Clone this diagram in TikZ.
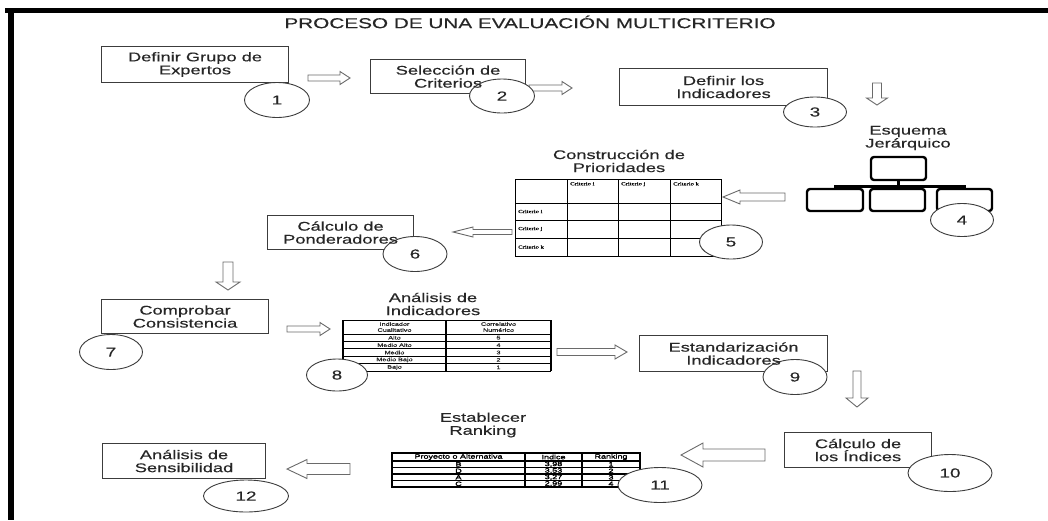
\documentclass[tikz,border=0pt]{standalone}
\usepackage{fontspec}
\setmainfont[FakeStretch=1.45,FakeBold=0.35]{Liberation Sans}
\newfontfamily\cellserif[FakeStretch=1.45,FakeBold=1.2]{Liberation Serif}
\newfontfamily\cellsans[FakeStretch=1.45,FakeBold=0.8]{Liberation Sans}
\newfontfamily\heavysans[FakeStretch=1.45,FakeBold=2.6]{Liberation Sans}
\usetikzlibrary{shapes.geometric}

\definecolor{ink}{HTML}{262626}
\definecolor{edge}{HTML}{3C3C3C}
\definecolor{arrowgray}{HTML}{6A6A6A}

% hollow block arrow: start coordinate, angle, length, shaft half width, head half width, head length
\newcommand\blockarrow[6]{%
  \draw[hollow,shift={(#1)},rotate=#2]
    (0,-#4) -- ({#3-#6},-#4) -- ({#3-#6},-#5) -- (#3,0) -- ({#3-#6},#5) -- ({#3-#6},#4) -- (0,#4) -- cycle;}

\begin{document}
\begin{tikzpicture}[x=1pt,y=-1pt,
  body/.style={font=\fontsize{12.6}{13}\selectfont, text=ink, align=center, inner sep=0pt},
  stepbox/.style={draw=edge, line width=1.1pt, fill=white, inner sep=0pt},
  badge/.style={ellipse, draw=edge, line width=0.9pt, fill=white, text=ink,
    font=\fontsize{13}{13}\selectfont, inner sep=0pt},
  hollow/.style={draw=arrowgray, line width=0.9pt, fill=white, line join=miter},
  orgbox/.style={draw=black, line width=2.4pt, rounded corners=3pt, inner sep=0pt},
  orgline/.style={draw=black, line width=3pt},
  tabline/.style={draw=black, line width=0.9pt},
  thickline/.style={draw=black, line width=2.4pt},
  mcell/.style={font=\cellserif\fontsize{4.6}{5}\selectfont, inner sep=0pt},
  icell/.style={font=\cellsans\fontsize{5}{6}\selectfont, text=ink, inner sep=0pt, align=center},
  rcell/.style={font=\heavysans\fontsize{6.2}{6.5}\selectfont, inner sep=0pt},
]
\useasboundingbox (0,0) rectangle (1048,520);
\fill[white] (0,0) rectangle (1048,520);

% frame bars
\fill[black] (5,8) rectangle (1048,13);
\fill[black] (8,8) rectangle (14,520);

% title
\node[font=\fontsize{14.3}{15}\selectfont, text=ink, inner sep=0pt] (title) at (530,22)
  {PROCESO DE UNA EVALUACIÓN MULTICRITERIO};

% step box frames
\node[stepbox, anchor=north west, minimum width=187, minimum height=36] (b1) at (101,46) {};
\node[stepbox, anchor=north west, minimum width=155, minimum height=34] (b2) at (370,59) {};
\node[stepbox, anchor=north west, minimum width=208, minimum height=37] (b3) at (619,68) {};
\node[stepbox, anchor=north west, minimum width=146, minimum height=34] (b6) at (267,215) {};
\node[stepbox, anchor=north west, minimum width=167, minimum height=34] (b7) at (101,299) {};
\node[stepbox, anchor=north west, minimum width=188, minimum height=36] (b9) at (639,335) {};
\node[stepbox, anchor=north west, minimum width=147, minimum height=35] (b10) at (784,432) {};
\node[stepbox, anchor=north west, minimum width=163, minimum height=35] (b12) at (102,443) {};

% captions
\node[body] (capH) at (908,138) {Esquema\\Jerárquico};
\node[body] (capP) at (619,161) {Construcción de\\Prioridades};
\node[body] (capI) at (433,304) {Análisis de\\Indicadores};
\node[body] (capR) at (483,425) {Establecer\\Ranking};

% hierarchy sketch
\node[orgbox, minimum width=55, minimum height=23] (ht) at (898.5,168.5) {};
\node[orgbox, minimum width=56, minimum height=22] (ha) at (835,200) {};
\node[orgbox, minimum width=55, minimum height=22] (hb) at (897.5,200) {};
\node[orgbox, minimum width=55, minimum height=22] (hc) at (964.5,200) {};
\coordinate (hbar) at (898.5,186.5);
\draw[orgline] (ht.south) -- (hbar);
\draw[orgline] (ha.north) |- (hbar) -| (hc.north);
\draw[orgline] (hb.north) -- (hb.north|-hbar);

% priority matrix
\draw[tabline] (515,179) rectangle (721,256);
\foreach \x in {567,618,670} \draw[tabline] (\x,179) -- (\x,256);
\foreach \y in {203,220,238} \draw[tabline] (515,\y) -- (721,\y);
\node[mcell, anchor=north west] (mh1) at (570,182) {Criterio i};
\node[mcell, anchor=north west] (mh2) at (621,182) {Criterio j};
\node[mcell, anchor=north west] (mh3) at (673,182) {Criterio k};
\node[mcell, anchor=west] (mr1) at (518,211.5) {Criterio i};
\node[mcell, anchor=west] (mr2) at (518,229) {Criterio j};
\node[mcell, anchor=west] (mr3) at (518,247) {Criterio k};

% indicator scale table
\draw[tabline] (343,320) -- (551,320);
\foreach \y in {334,341.4,348.8,356.2,363.6,371} \draw[tabline] (343,\y) -- (551,\y);
\foreach \x in {343,446,551} \draw[thickline] (\x,320) -- (\x,371);
\node[icell] (ih1) at (394.5,327) {Indicador\\Cualitativo};
\node[icell] (ih2) at (498.5,327) {Correlativo\\Numérico};
\foreach \t/\v [count=\i] in {Alto/5,Medio Alto/4,Medio/3,Medio Bajo/2,Bajo/1}{
  \node[icell] (il\i) at (394.5,{330.3+7.4*\i}) {\t};
  \node[icell] (iv\i) at (498.5,{330.3+7.4*\i}) {\v};
}

% ranking table
\draw[thickline, line width=1.8pt] (392,453) rectangle (640,487);
\foreach \x in {525,582} \draw[thickline, line width=1.8pt] (\x,453) -- (\x,487);
\foreach \y in {461,467.5,474,480.5} \draw[tabline, line width=1.2pt] (392,\y) -- (640,\y);
\node[rcell] (rh1) at (458.5,457) {Proyecto o Alternativa};
\node[rcell] (rh2) at (553.5,457) {Indice};
\node[rcell] (rh3) at (611,457) {Ranking};
\foreach \p/\s/\k [count=\i] in {B/{3,98}/1,D/{3,53}/2,A/{3,27}/3,C/{2,99}/4}{
  \node[rcell] (rp\i) at (458.5,{457.8+6.5*\i}) {\p};
  \node[rcell] (rs\i) at (553.5,{457.8+6.5*\i}) {\s};
  \node[rcell] (rk\i) at (611,{457.8+6.5*\i}) {\k};
}

% flow arrows
\coordinate (a12) at (308,78);
\coordinate (a23) at (529,88);
\coordinate (a34) at (877,83);
\coordinate (a45) at (785,197);
\coordinate (a56) at (512,232);
\coordinate (a67) at (228,262);
\coordinate (a78) at (287,329);
\coordinate (a89) at (557,352);
\coordinate (a910) at (857,371);
\coordinate (a1011) at (765,455);
\coordinate (a1112) at (350,469);
\blockarrow{a12}{0}{42}{3}{6.5}{10}
\blockarrow{a23}{0}{43}{3}{6.5}{10}
\blockarrow{a34}{-90}{22}{4.5}{10.5}{7}
\blockarrow{a45}{180}{62}{4}{7}{17}
\blockarrow{a56}{180}{59}{2.5}{5}{20}
\blockarrow{a67}{-90}{28}{5}{12}{8}
\blockarrow{a78}{0}{43}{3}{6.5}{10}
\blockarrow{a89}{0}{70}{3.5}{7}{12}
\blockarrow{a910}{-90}{36}{4}{11}{9}
\blockarrow{a1011}{180}{84}{6}{12}{22}
\blockarrow{a1112}{180}{63}{5.5}{9.5}{20}

% step numbers
\node[badge, minimum width=65, minimum height=35] (c1) at (277,100) {1};
\node[badge, minimum width=65, minimum height=34] (c2) at (502,96) {2};
\node[badge, minimum width=63, minimum height=30] (c3) at (815,112) {3};
\node[badge, minimum width=63, minimum height=33] (c4) at (962,220) {4};
\node[badge, minimum width=63, minimum height=34] (c5) at (731,242) {5};
\node[badge, minimum width=64, minimum height=35] (c6) at (415,254) {6};
\node[badge, minimum width=63, minimum height=35] (c7) at (111,352) {7};
\node[badge, minimum width=61, minimum height=32] (c8) at (337,375) {8};
\node[badge, minimum width=64, minimum height=35] (c9) at (795,377) {9};
\node[badge, minimum width=84, minimum height=37] (c10) at (950,473) {10};
\node[badge, minimum width=84, minimum height=35] (c11) at (660,485) {11};
\node[badge, minimum width=85, minimum height=32] (c12) at (246,496) {12};

% step box labels, set above the number badges
\node[body] (t1) at (b1.center) {Definir Grupo de\\Expertos};
\node[body] (t2) at (b2.center) {Selección de\\Criterios};
\node[body] (t3) at (b3.center) {Definir los\\Indicadores};
\node[body] (t6) at (b6.center) {Cálculo de\\Ponderadores};
\node[body] (t7) at (b7.center) {Comprobar\\Consistencia};
\node[body] (t9) at (b9.center) {Estandarización\\Indicadores};
\node[body] (t10) at (b10.center) {Cálculo de\\los Índices};
\node[body] (t12) at (b12.center) {Análisis de\\Sensibilidad};
\end{tikzpicture}
\end{document}
